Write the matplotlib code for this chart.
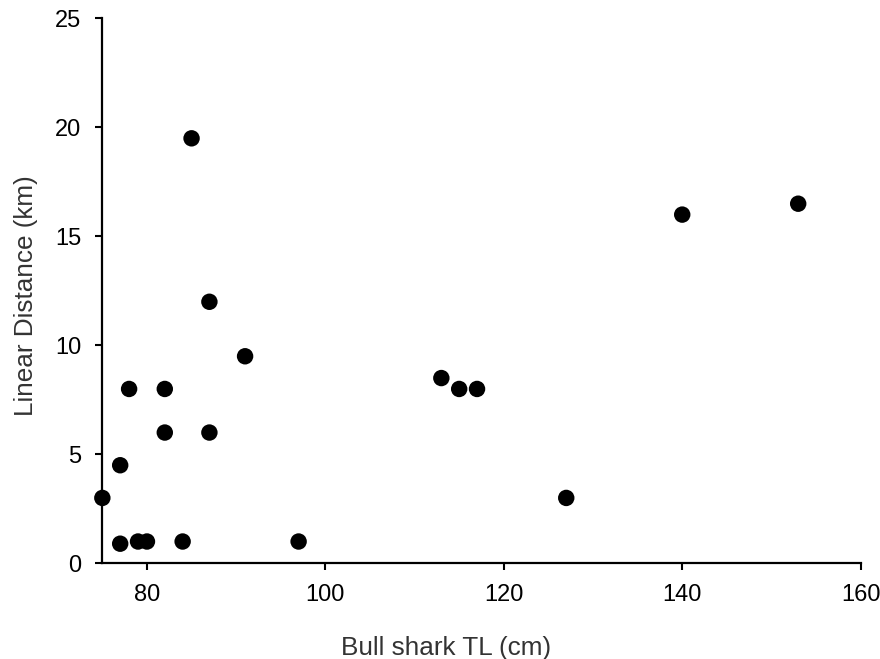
import matplotlib
matplotlib.use("Agg")
import matplotlib.pyplot as plt

# Bull shark total length (cm) vs linear distance (km)
tl_cm = [75, 77, 77, 78, 79, 80, 82, 82, 84, 85, 87, 87, 91, 97, 113, 115, 117, 127, 140, 153]
dist_km = [3, 4.5, 0.9, 8, 1, 1, 8, 6, 1, 19.5, 12, 6, 9.5, 1, 8.5, 8, 8, 3, 16, 16.5]

plt.rcParams['font.family'] = ['Liberation Sans', 'DejaVu Sans']

fig = plt.figure(figsize=(8.8, 6.59), dpi=100)
ax = fig.add_axes([0.1163, 0.1452, 0.8617, 0.8268])

ax.scatter(tl_cm, dist_km, s=140, c='black', edgecolors='none', zorder=3, clip_on=False)

ax.set_xlim(75, 160)
ax.set_ylim(0, 25)
ax.set_xticks([80, 100, 120, 140, 160])
ax.set_yticks([0, 5, 10, 15, 20, 25])

for side in ['top', 'right']:
    ax.spines[side].set_visible(False)
for side in ['left', 'bottom']:
    ax.spines[side].set_linewidth(1.6)

ax.tick_params(direction='out', length=5, width=1.5, labelsize=17, colors='black')
ax.tick_params(axis='x', pad=10)
ax.tick_params(axis='y', pad=10)

ax.set_xlabel('Bull shark TL (cm)', fontsize=18.8, color='#333333')
ax.set_ylabel('Linear Distance (km)', fontsize=18.8, color='#333333')
# label placement as in the original (x title sits left of centre)
ax.xaxis.set_label_coords(0.453, -0.168)
ax.xaxis.label.set_va('baseline')
ax.yaxis.set_label_coords(-0.0913, 0.492)
ax.yaxis.label.set_va('baseline')

fig.savefig('out.png', dpi=100)
